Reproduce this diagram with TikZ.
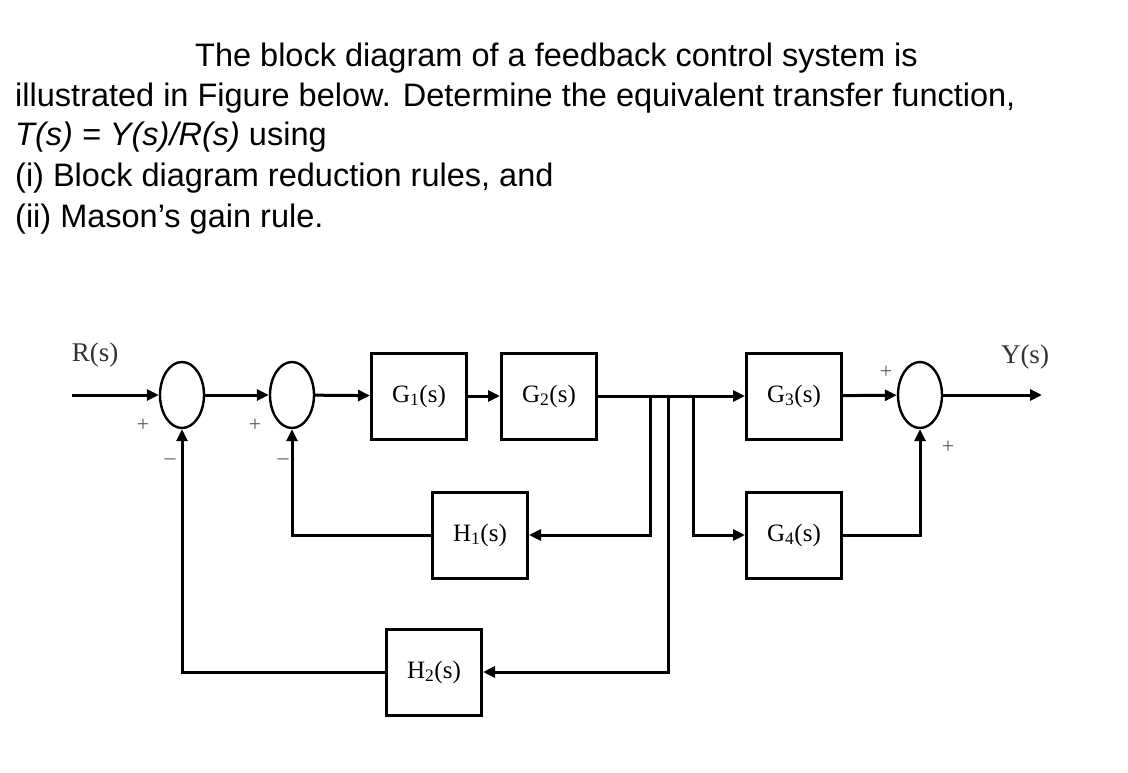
\documentclass[tikz,border=0pt]{standalone}
\usepackage{fontspec}
\setmainfont{Liberation Sans}
\newfontfamily\serifx{Liberation Serif}
\usetikzlibrary{shapes.geometric,arrows.meta}
\begin{document}
\begin{tikzpicture}[x=1pt,y=-1pt,
  blk/.style={draw,line width=3pt,minimum width=95pt,minimum height=86pt,font=\serifx\fontsize{25}{28}\selectfont,inner sep=0pt},
  sum/.style={draw,ellipse,line width=2.4pt,minimum width=44pt,minimum height=66pt,inner sep=0pt},
  ln/.style={line width=3pt},
  ar/.style={ln,-{Triangle[length=12pt,width=11pt]}},
  lbl/.style={font=\serifx\fontsize{27}{30}\selectfont,text=black!80},
  sg/.style={font=\serifx\fontsize{22}{24}\selectfont,text=black!65},
  q/.style={anchor=base west,font=\fontsize{32.5}{36}\selectfont,inner sep=0pt}]
\useasboundingbox (0,0) rectangle (1128,773);
\node[q] (t1) at (195,67) {The block diagram of a feedback control system is};
\node[q] (t2) at (15,107) {illustrated in Figure below. Determine the equivalent transfer function,};
\node[q] (t3) at (15,146) {\textit{T(s) = Y(s)/R(s)} using};
\node[q] (t4) at (15,187) {(i) Block diagram reduction rules, and};
\node[q] (t5) at (15,227) {(ii) Mason’s gain rule.};

\node[sum] (s1) at (182,395) {};
\node[sum] (s2) at (292,395) {};
\node[sum] (s3) at (920,395) {};
\node[blk] (g1) at (419,396) {G\textsubscript{1}(s)};
\node[blk] (g2) at (549,396) {G\textsubscript{2}(s)};
\node[blk] (g3) at (794,396) {G\textsubscript{3}(s)};
\node[blk] (g4) at (794,535) {G\textsubscript{4}(s)};
\node[blk] (h1) at (480,535) {H\textsubscript{1}(s)};
\node[blk] (h2) at (434,672) {H\textsubscript{2}(s)};
\coordinate (rin) at (72,395);
\coordinate (yout) at (1042,395);
\coordinate (b1) at (650,395);
\coordinate (b2) at (668,395);
\coordinate (b3) at (693,395);

\draw[ar] (rin) -- (s1);
\draw[ar] (s1) -- (s2);
\draw[ar] (s2) -- (g1);
\draw[ar] (g1) -- (g2);
\draw[ar] (g2) -- (g3);
\draw[ar] (g3) -- (s3);
\draw[ar] (s3) -- (yout);
\draw[ar] (b3) |- (g4);
\draw[ar] (g4) -| (s3);
\draw[ar] (b1) |- (h1);
\draw[ar] (h1) -| (s2);
\draw[ar] (b2) |- (h2);
\draw[ar] (h2) -| (s1);

\node[lbl] (r) at (95,355) {R(s)};
\node[lbl] (y) at (1025,357) {Y(s)};
\node[sg] (p1) at (143,425) {+};
\node[sg] (m1) at (170,462) {–};
\node[sg] (p2) at (255,425) {+};
\node[sg] (m2) at (283,462) {–};
\node[sg] (p3) at (886,372) {+};
\node[sg] (p4) at (948,447) {+};
\end{tikzpicture}
\end{document}
